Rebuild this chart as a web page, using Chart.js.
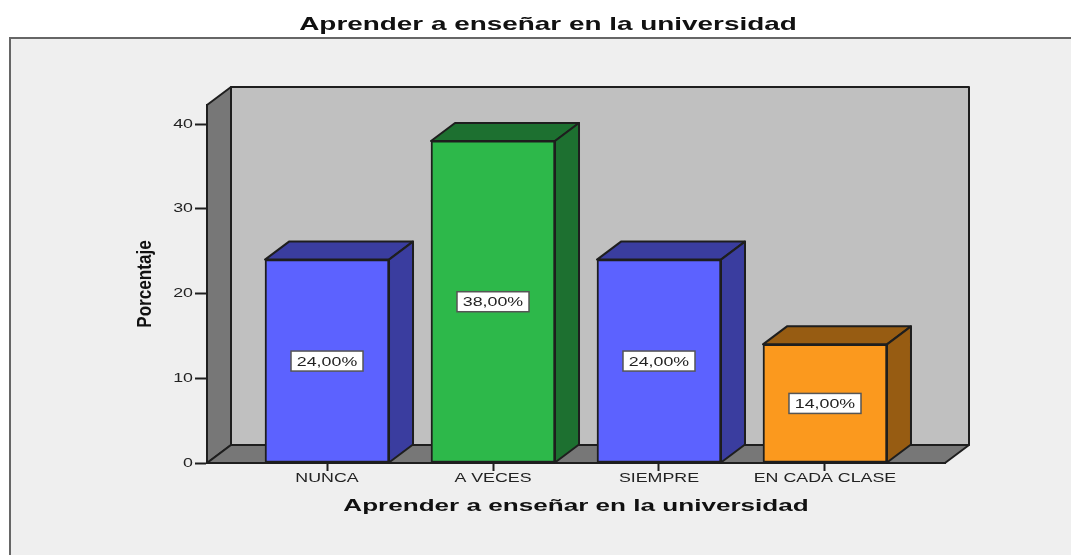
<!DOCTYPE html>
<html>
<head>
<meta charset="utf-8">
<title>Aprender a enseñar en la universidad</title>
<script src="https://cdn.jsdelivr.net/npm/chart.js@4"></script>
<style>
  html, body { margin: 0; padding: 0; background: #fff; }
  canvas { display: block; }
</style>
</head>
<body>
<canvas id="chart" width="1071" height="555"></canvas>
<script>
const categories = ['NUNCA', 'A VECES', 'SIEMPRE', 'EN CADA CLASE'];
const values = [24, 38, 24, 14];
const yTicks = [0, 10, 20, 30, 40];
const frontColors = ['#5c62ff', '#2db84a', '#5c62ff', '#fb991e'];
const sideColors = ['#3a3d9f', '#1d7030', '#3a3d9f', '#975c12'];

const DEPTH_X = 24;
const DEPTH_Y = 18;
const OUTLINE = '#1e1e1e';
const FONT = '"Liberation Sans"';

// the reference image is stretched sideways, all text but the y title is wide
const TEXT_STRETCH = 1.37;
const BOLD_STRETCH = 1.5;
const YTITLE_STRETCH = 0.855;

function poly(ctx, pts, fill) {
  ctx.beginPath();
  pts.forEach((p, i) => i ? ctx.lineTo(p[0], p[1]) : ctx.moveTo(p[0], p[1]));
  ctx.closePath();
  ctx.fillStyle = fill;
  ctx.fill();
  ctx.stroke();
}

const box3d = {
  id: 'box3d',
  beforeDraw(chart) {
    const ctx = chart.ctx;
    if (!ctx.plainFillText) {
      ctx.plainFillText = ctx.fillText;
      ctx.fillText = function (text, x, y) {
        let sx = this.font.includes('bold') ? BOLD_STRETCH : TEXT_STRETCH;
        if (text === 'Porcentaje') sx = YTITLE_STRETCH;
        this.save();
        this.translate(x, y);
        this.scale(sx, 1);
        this.plainFillText(text, 0, 0);
        this.restore();
      };
    }
    // outer panel, runs off the right and bottom of the page
    ctx.save();
    ctx.fillStyle = '#efefef';
    ctx.strokeStyle = '#666';
    ctx.lineWidth = 2;
    ctx.fillRect(10, 38, 1071, 517);
    ctx.strokeRect(10, 38, 1200, 700);
    ctx.restore();
  },
  afterLayout(chart) {
    // the title sits left of the plot centre
    chart.titleBlock.left += 24;
  },
  beforeDatasetsDraw(chart) {
    const { ctx, chartArea: a } = chart;
    ctx.save();
    ctx.strokeStyle = OUTLINE;
    ctx.lineWidth = 2;
    ctx.lineJoin = 'round';
    // back wall, left wall, floor
    poly(ctx, [[a.left + DEPTH_X, a.top - DEPTH_Y], [a.right + DEPTH_X, a.top - DEPTH_Y],
      [a.right + DEPTH_X, a.bottom - DEPTH_Y], [a.left + DEPTH_X, a.bottom - DEPTH_Y]], '#c0c0c0');
    poly(ctx, [[a.left, a.top], [a.left + DEPTH_X, a.top - DEPTH_Y],
      [a.left + DEPTH_X, a.bottom - DEPTH_Y], [a.left, a.bottom]], '#777777');
    poly(ctx, [[a.left, a.bottom], [a.left + DEPTH_X, a.bottom - DEPTH_Y],
      [a.right + DEPTH_X, a.bottom - DEPTH_Y], [a.right, a.bottom]], '#777777');
    // top and side of each bar
    chart.getDatasetMeta(0).data.forEach((bar, i) => {
      const l = bar.x - bar.width / 2, r = bar.x + bar.width / 2;
      poly(ctx, [[l, bar.y], [l + DEPTH_X, bar.y - DEPTH_Y], [r + DEPTH_X, bar.y - DEPTH_Y], [r, bar.y]], sideColors[i]);
      poly(ctx, [[r, bar.y], [r + DEPTH_X, bar.y - DEPTH_Y], [r + DEPTH_X, bar.base - DEPTH_Y], [r, bar.base]], sideColors[i]);
    });
    ctx.restore();
  },
  afterDatasetsDraw(chart) {
    const ctx = chart.ctx;
    ctx.save();
    ctx.font = '13px ' + FONT;
    ctx.textAlign = 'center';
    ctx.textBaseline = 'middle';
    chart.getDatasetMeta(0).data.forEach((bar, i) => {
      const cy = (bar.y + bar.base) / 2;
      ctx.fillStyle = '#fff';
      ctx.strokeStyle = '#555';
      ctx.lineWidth = 1.5;
      ctx.fillRect(bar.x - 36, cy - 10, 72, 20);
      ctx.strokeRect(bar.x - 36, cy - 10, 72, 20);
      ctx.fillStyle = '#222';
      ctx.fillText(values[i].toFixed(2).replace('.', ',') + '%', bar.x, cy + 1);
    });
    ctx.restore();
  }
};

new Chart(document.getElementById('chart'), {
  type: 'bar',
  data: {
    datasets: [{
      data: categories.map((c, i) => ({ x: i, y: values[i] })),
      backgroundColor: frontColors,
      borderColor: OUTLINE,
      borderWidth: 2,
      borderSkipped: false,
      barThickness: 124
    }]
  },
  options: {
    responsive: false,
    animation: false,
    layout: { padding: { left: 127, right: 126, top: 0, bottom: 29 } },
    plugins: {
      legend: { display: false },
      tooltip: { enabled: false },
      title: {
        display: true,
        text: 'Aprender a enseñar en la universidad',
        color: '#111',
        font: { family: FONT, size: 18.6, weight: 'bold', lineHeight: 1.2 },
        padding: { top: 14, bottom: 68.7 }
      }
    },
    scales: {
      x: {
        type: 'linear',
        offset: false,
        min: -0.723,
        max: 3.723,
        afterFit(scale) { scale.height = 63; },
        border: { color: OUTLINE, width: 2 },
        grid: { offset: false, drawOnChartArea: false, color: OUTLINE, tickLength: 8, tickWidth: 2 },
        ticks: {
          stepSize: 1,
          includeBounds: false,
          autoSkip: false,
          maxRotation: 0,
          padding: 0,
          color: '#222',
          font: { family: FONT, size: 13 },
          callback: (v) => categories[v]
        },
        title: {
          display: true,
          text: 'Aprender a enseñar en la universidad',
          color: '#111',
          font: { family: FONT, size: 17.4, weight: 'bold', lineHeight: 1.2 },
          padding: { top: 0, bottom: 9 }
        }
      },
      y: {
        min: 0,
        max: 42.24,
        afterFit(scale) { scale.width = 80; },
        afterBuildTicks(scale) { scale.ticks = yTicks.map((v) => ({ value: v })); },
        border: { color: OUTLINE, width: 2 },
        grid: { drawOnChartArea: false, color: OUTLINE, tickLength: 12, tickWidth: 2 },
        ticks: {
          padding: 2,
          color: '#222',
          font: { family: FONT, size: 13 }
        },
        title: {
          display: true,
          text: 'Porcentaje',
          color: '#111',
          font: { family: FONT, size: 20, weight: 'bold', lineHeight: 1.2 },
          padding: { top: 6, bottom: 0 }
        }
      }
    }
  },
  plugins: [box3d]
});
</script>
</body>
</html>
